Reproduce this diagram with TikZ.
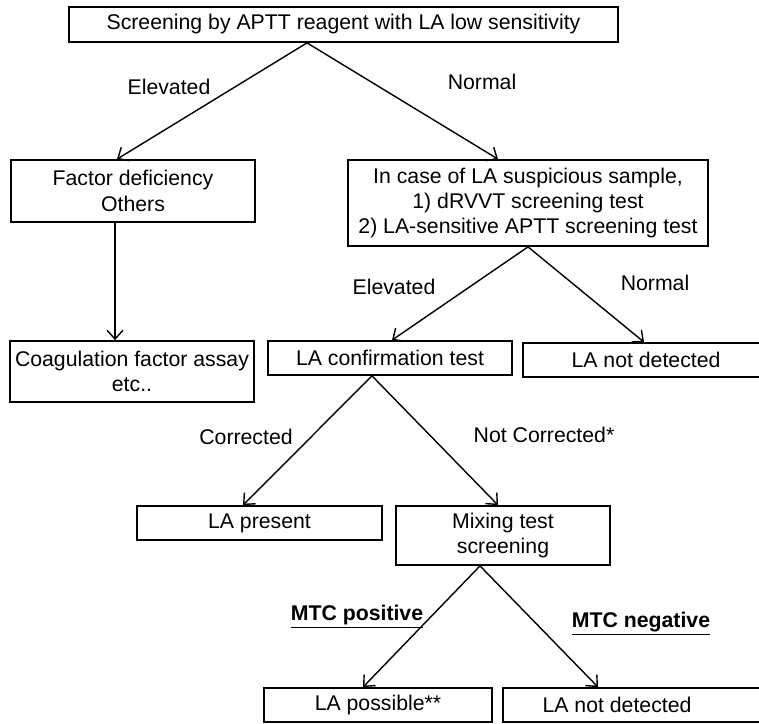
\documentclass[tikz,border=0pt]{standalone}
\usepackage{fontspec}
\setmainfont{Liberation Sans}
\usetikzlibrary{arrows.meta}

\tikzset{
  txt/.style={font=\fontsize{12.1}{14.4}\selectfont},
  box/.style={txt, draw, line width=1pt, inner sep=0pt, align=center},
  wh/.style 2 args={minimum width=#1*0.02cm, minimum height=#2*0.02cm},
  arr/.style={line width=0.8pt, -{Straight Barb[length=5pt,width=9pt]}}
}

\begin{document}
\begin{tikzpicture}[x=0.02cm, y=-0.02cm]
        \useasboundingbox (0,0) rectangle (759,723);
        \clip (0,0) rectangle (759,723);
        % boxes
        \node[box, wh={549}{35}] (top) at (343.5,24.5) {Screening by APTT reagent with LA low sensitivity};
        \node[box, wh={244}{62}] (factor) at (133,191) {Factor deficiency\\Others};
        \node[box, wh={360}{86}] (suspect) at (528,203) {In case of LA suspicious sample,\\1) dRVVT screening test\\2) LA-sensitive APTT screening test};
        \node[box, wh={244}{61}] (coag) at (132,371.5) {Coagulation factor assay\\etc..};
        \node[box, wh={244}{34}] (confirm) at (390,358) {LA confirmation test};
        \node[box, wh={246}{34}] (nd1) at (646,360) {LA not detected};
        \node[box, wh={245}{34}] (present) at (259.5,523) {LA present};
        \node[box, wh={214}{59}] (mixing) at (503,535.5) {Mixing test\\screening};
        \node[box, wh={228}{34}] (possible) at (378,705) {LA possible**};
        \node[box, wh={267}{34}, label={[txt, xshift=-0.39cm]center:LA not detected}] (nd2) at (636.5,705) {};
        % arrows
        \draw[arr] (top.south -| 307,0) -- (factor.north -| 117,0);
        \draw[arr] (top.south -| 307,0) -- (suspect.north -| 498,0);
        \draw[arr] (factor.south -| 115,0) -- (coag.north -| 115,0);
        \draw[arr] (suspect.south) -- (confirm.north -| 392,0);
        \draw[arr] (suspect.south) -- (nd1.north -| 644,0);
        \draw[arr] (confirm.south -| 372,0) -- (present.north -| 243,0);
        \draw[arr] (confirm.south -| 372,0) -- (mixing.north -| 498,0);
        \draw[arr] (mixing.south -| 480,0) -- (possible.north -| 363,0);
        \draw[arr] (mixing.south -| 480,0) -- (nd2.north -| 598,0);
        % labels
        \node[txt] (elev1) at (169,87) {Elevated};
        \node[txt] (norm1) at (482,82) {Normal};
        \node[txt] (elev2) at (394,287) {Elevated};
        \node[txt] (norm2) at (655,283) {Normal};
        \node[txt] (corr) at (246,437) {Corrected};
        \node[txt] (notcorr) at (544,435) {Not Corrected*};
        \node[txt] (mtcpos) at (357,617) {\underline{\textbf{MTC positive}}};
        \node[txt] (mtcneg) at (641,624) {\underline{\textbf{MTC negative}}};
\end{tikzpicture}
\end{document}
